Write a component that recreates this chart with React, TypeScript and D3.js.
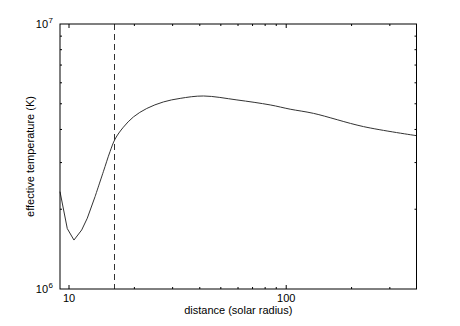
import React from "react";
import * as d3 from "d3";

const distance = [9.09, 9.82, 10.54, 11.44, 12.14, 13.18, 14.39, 15.45, 16.3, 17.8, 19.8, 22.8, 27.2, 32.5, 41.6, 59.3, 84.4, 104.3, 133.6, 227, 398];
const temperature = [2.33e6, 1.69e6, 1.53e6, 1.67e6, 1.85e6, 2.23e6, 2.77e6, 3.3e6, 3.68e6, 4.08e6, 4.46e6, 4.8e6, 5.08e6, 5.24e6, 5.35e6, 5.17e6, 4.95e6, 4.77e6, 4.6e6, 4.1e6, 3.79e6];
const markerDistance = 16.2;
const xDomain = [9.09, 398];
const yDomain = [1e6, 1e7];
const xMajorTicks = [10, 100];
const xMinorTicks = [20, 30, 40, 50, 60, 70, 80, 90, 200, 300];
const yMinorTicks = [2e6, 3e6, 4e6, 5e6, 6e6, 7e6, 8e6, 9e6];
const yTickLabels = [{ v: 1e6, exp: "6" }, { v: 1e7, exp: "7" }];

export default function App() {
  const W = 460, H = 326;
  const L = 60, R = 416.5, T = 24, B = 289;
  const x = d3.scaleLog().domain(xDomain).range([L, R]);
  const y = d3.scaleLog().domain(yDomain).range([B, T]);
  const pts = distance.map((d, i) => [d, temperature[i]] as [number, number]);
  const split = 5;
  const lin = d3.line<[number, number]>().x(d => x(d[0])).y(d => y(d[1]));
  const smooth = d3.line<[number, number]>().x(d => x(d[0])).y(d => y(d[1])).curve(d3.curveCatmullRom.alpha(0.5));
  const font = "'Liberation Sans', Arial, Helvetica, sans-serif";
  return (
    <svg width={W} height={H} style={{ position: "absolute", left: 0, top: 0, background: "#fff" }} fontFamily={font}>
      <rect x={0} y={0} width={W} height={H} fill="#fff" />
      <path d={lin(pts.slice(0, split + 1)) || ""} fill="none" stroke="#333" strokeWidth={1} strokeLinejoin="round" />
      <path d={smooth(pts.slice(split)) || ""} fill="none" stroke="#333" strokeWidth={1} />
      <line x1={x(markerDistance)} x2={x(markerDistance)} y1={T} y2={B} stroke="#333" strokeWidth={1} strokeDasharray="6,4" />
      <rect x={L} y={T} width={R - L} height={B - T} fill="none" stroke="#000" strokeWidth={1} />
      {xMajorTicks.map(t => (
        <g key={"xm" + t}>
          <line x1={x(t)} x2={x(t)} y1={B} y2={B - 4} stroke="#000" />
          <line x1={x(t)} x2={x(t)} y1={T} y2={T + 4} stroke="#000" />
          <text x={x(t)} y={302} fontSize={11} textAnchor="middle" fill="#000">{t}</text>
        </g>
      ))}
      {xMinorTicks.map(t => (
        <g key={"xn" + t}>
          <line x1={x(t)} x2={x(t)} y1={B} y2={B - 2} stroke="#000" />
          <line x1={x(t)} x2={x(t)} y1={T} y2={T + 2} stroke="#000" />
        </g>
      ))}
      {yMinorTicks.map(t => (
        <g key={"yn" + t}>
          <line x1={L} x2={L + 2} y1={y(t)} y2={y(t)} stroke="#000" />
          <line x1={R} x2={R - 2} y1={y(t)} y2={y(t)} stroke="#000" />
        </g>
      ))}
      {yTickLabels.map(t => (
        <text key={"yl" + t.exp} x={53} y={y(t.v) + 4} fontSize={11} textAnchor="end" fill="#000">
          10
          <tspan dx={0.5} dy={-5} fontSize={8}>{t.exp}</tspan>
        </text>
      ))}
      <text x={(L + R) / 2} y={314} fontSize={11} textAnchor="middle" fill="#000">distance (solar radius)</text>
      <text transform={`translate(34,${(T + B) / 2}) rotate(-90)`} fontSize={11} textAnchor="middle" fill="#000">effective temperature (K)</text>
    </svg>
  );
}
